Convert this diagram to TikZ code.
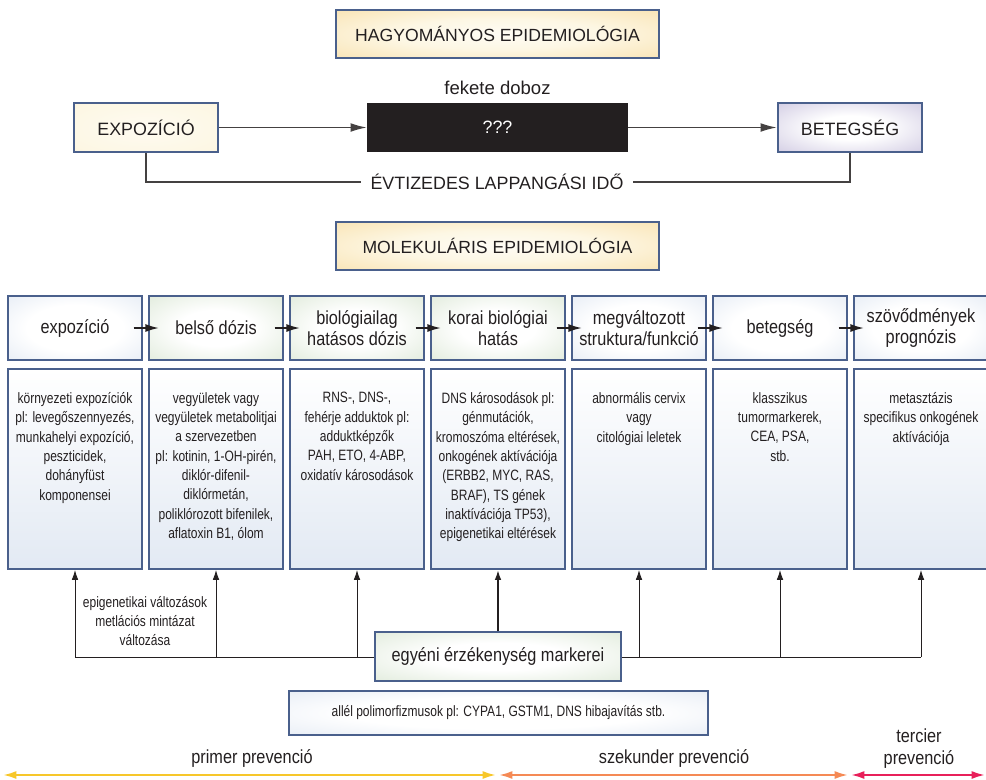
\documentclass[tikz,border=0pt]{standalone}
\usepackage{fontspec}
\setmainfont{Liberation Sans}
\newfontfamily\condfont[FakeStretch=0.8]{Liberation Sans}
\newfontfamily\midfont[FakeStretch=0.86]{Liberation Sans}
\usetikzlibrary{arrows.meta,calc}

\definecolor{frame}{HTML}{4A608C}
\definecolor{ink}{HTML}{231F20}
\definecolor{paleblue}{HTML}{D6E0EE}
\definecolor{palegreen}{HTML}{D0E0C8}
\definecolor{cream}{HTML}{FDF7E4}
\definecolor{goldedge}{HTML}{F7D795}
\definecolor{lilac}{HTML}{B9B0D4}
\definecolor{prevyellow}{HTML}{F7C72A}
\definecolor{prevorange}{HTML}{F58A55}
\definecolor{prevred}{HTML}{E8205A}

% soft fills: pale core fading to a tint near the edges
\pgfdeclareradialshading{softblue}{\pgfpoint{0bp}{0bp}}{color(0bp)=(white); color(18bp)=(white); color(50bp)=(paleblue)}
\pgfdeclareradialshading{softgreen}{\pgfpoint{0bp}{0bp}}{color(0bp)=(white); color(14bp)=(white); color(50bp)=(palegreen)}
\pgfdeclareradialshading{softgold}{\pgfpoint{0bp}{0bp}}{color(0bp)=(cream!40!white); color(16bp)=(cream); color(50bp)=(goldedge)}
\pgfdeclareradialshading{softcream}{\pgfpoint{0bp}{0bp}}{color(0bp)=(cream!50!white); color(30bp)=(cream); color(50bp)=(cream!70!goldedge)}
\pgfdeclareradialshading{softlilac}{\pgfpoint{0bp}{0bp}}{color(0bp)=(white); color(12bp)=(white); color(50bp)=(lilac)}

\begin{document}
\begin{tikzpicture}[x=0.75pt,y=-0.75pt,
  every node/.style={inner sep=0pt,text=ink},
  frm/.style={draw=frame,line width=1.4pt},
  headbox/.style={frm,minimum width=242pt,minimum height=36pt,
    shading=softgold,font=\fontsize{13.2}{15}\selectfont},
  capsbox/.style={frm,minimum width=108.5pt,minimum height=37pt,
    font=\fontsize{13.4}{15}\selectfont},
  blackbox/.style={fill=ink,minimum width=195.75pt,minimum height=37pt,
    text=white,font=\fontsize{13.4}{15}\selectfont},
  capstext/.style={font=\fontsize{13.4}{15}\selectfont,inner xsep=7pt},
  stagebox/.style={frm,minimum width=100.5pt,minimum height=48pt,align=center,
    font=\midfont\fontsize{14.2}{16.3}\selectfont},
  bluestage/.style={stagebox,shading=softblue},
  greenstage/.style={stagebox,shading=softgreen},
  detailbox/.style={frm,minimum width=100.5pt,minimum height=150pt,
    top color=white,bottom color=paleblue!70},
  smalltext/.style={align=center,font=\condfont\fontsize{11.25}{14.5}\selectfont},
  midtext/.style={align=center,font=\midfont\fontsize{14.2}{16.5}\selectfont},
  plainline/.style={draw=ink!85,line width=1pt},
  bigarrow/.style={plainline,-{Latex[length=12pt,width=6.5pt]}},
  rowarrow/.style={draw=ink,line width=1.1pt,-{Latex[length=10pt,width=6pt]}},
  uparrow/.style={draw=ink,line width=0.7pt,-{Latex[length=7.5pt,width=5pt]}},
  prevarrow/.style={line width=1.6pt,{Latex[length=10pt,width=6pt]}-{Latex[length=10pt,width=6pt]}}
]
\useasboundingbox (0,0) rectangle (986,779);

% ---------- traditional epidemiology ----------
\node[headbox] (hagy) at (497.5,34) {HAGYOMÁNYOS EPIDEMIOLÓGIA};
\node[font=\fontsize{13.9}{16}\selectfont] (fekete) at (497.5,88) {fekete doboz};
\node[capsbox,shading=softcream] (expo) at (146,127.5) {EXPOZÍCIÓ};
\node[blackbox] (black) at (497.5,127.5) {???};
\node[capsbox,shading=softlilac] (beteg) at (850,127.5) {BETEGSÉG};
\draw[bigarrow] (expo) -- (black);
\draw[bigarrow] (black) -- (beteg);
\node[capstext] (lat) at (497,182) {ÉVTIZEDES LAPPANGÁSI IDŐ};
\draw[plainline] (expo.south) |- (lat.west);
\draw[plainline] (lat.east) -| (beteg.south);

% ---------- molecular epidemiology ----------
\node[headbox] (mol) at (497.5,246) {MOLEKULÁRIS EPIDEMIOLÓGIA};

% stage row
\node[bluestage]  (s1) at (75,328)  {expozíció};
\node[greenstage] (s2) at (216,328) {belső dózis};
\node[greenstage] (s3) at (357,328) {biológiailag\\hatásos dózis};
\node[greenstage] (s4) at (498,328) {korai biológiai\\hatás};
\node[bluestage]  (s5) at (639,328) {megváltozott\\struktura/funkció};
\node[bluestage]  (s6) at (780,328) {betegség};
\node[bluestage]  (s7) at (921,328) {szövődmények\\prognózis};

\foreach \a/\b in {s1/s2,s2/s3,s3/s4,s4/s5,s5/s6,s6/s7}
  \draw[rowarrow] ([xshift=-7pt]\a.east) -- ([xshift=8pt]\b.west);

% detail boxes
\foreach \k/\cx in {1/75,2/216,3/357,4/498,5/639,6/780,7/921}
  \node[detailbox] (d\k) at (\cx,469) {};

\node[smalltext,anchor=north] (t1) at ([yshift=-18pt]d1.north)
  {környezeti expozíciók\\pl: levegőszennyezés,\\munkahelyi expozíció,\\peszticidek,\\dohányfüst\\komponensei};
\node[smalltext,anchor=north] (t2) at ([yshift=-18pt]d2.north)
  {vegyületek vagy\\vegyületek metabolitjai\\a szervezetben\\pl: kotinin, 1-OH-pirén,\\diklór-difenil-\\diklórmetán,\\poliklórozott bifenilek,\\aflatoxin B1, ólom};
\node[smalltext,anchor=north] (t3) at ([yshift=-18pt]d3.north)
  {RNS-, DNS-,\\fehérje adduktok pl:\\adduktképzők\\PAH, ETO, 4-ABP,\\oxidatív károsodások};
\node[smalltext,anchor=north] (t4) at ([yshift=-18pt]d4.north)
  {DNS károsodások pl:\\génmutációk,\\kromoszóma eltérések,\\onkogének aktívációja\\(ERBB2, MYC, RAS,\\BRAF), TS gének\\inaktívációja TP53),\\epigenetikai eltérések};
\node[smalltext,anchor=north] (t5) at ([yshift=-18pt]d5.north)
  {abnormális cervix\\vagy\\citológiai leletek};
\node[smalltext,anchor=north] (t6) at ([yshift=-18pt]d6.north)
  {klasszikus\\tumormarkerek,\\CEA, PSA,\\stb.};
\node[smalltext,anchor=north] (t7) at ([yshift=-18pt]d7.north)
  {metasztázis\\specifikus onkogének\\aktívációja};

% susceptibility markers and their feed lines
\foreach \k/\cx in {1/75,2/216,3/357,4/498,5/639,6/780,7/921}
  \coordinate (h\k) at (\cx,657);
\draw[draw=ink,line width=0.7pt] (h1) -- (h7);
\foreach \k in {1,2,3,5,6,7}
  \draw[uparrow] (h\k) -- (d\k.south);
\node[frm,minimum width=184.5pt,minimum height=36.75pt,shading=softgreen,
  font=\midfont\fontsize{14.2}{16}\selectfont] (sens) at (498,656.5) {egyéni érzékenység markerei};
\draw[uparrow,line width=1.3pt] (sens.north) -- (d4.south);

\node[smalltext] (epi) at (145,621) {epigenetikai változások\\metlációs mintázat\\változása};

\node[frm,minimum width=314pt,minimum height=33pt,shading=softblue,
  font=\condfont\fontsize{11.25}{14}\selectfont] (allel) at (498.5,713)
  {allél polimorfizmusok pl: CYPA1, GSTM1, DNS hibajavítás stb.};

% ---------- prevention ranges ----------
\coordinate (pa) at (3,775);
\coordinate (pb) at (496,775);
\coordinate (pc) at (499,775);
\coordinate (pd) at (848,775);
\coordinate (pe) at (851,775);
\coordinate (pf) at (985,775);
\draw[prevarrow,prevyellow] (pa) -- (pb);
\draw[prevarrow,prevorange] (pc) -- (pd);
\draw[prevarrow,prevred] (pe) -- (pf);
\node[midtext] (lprim) at (252,758) {primer prevenció};
\node[midtext] (lszek) at (674,758) {szekunder prevenció};
\node[midtext] (lterc) at (919,749) {tercier\\prevenció};
\end{tikzpicture}
\end{document}
